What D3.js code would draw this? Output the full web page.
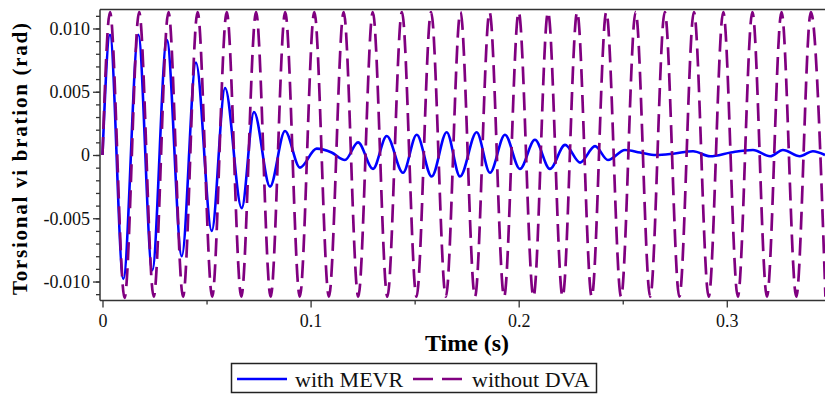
<!DOCTYPE html>
<html>
<head>
<meta charset="utf-8">
<script src="https://cdn.jsdelivr.net/npm/d3@7"></script>
<style>
  html, body { margin: 0; padding: 0; background: #fff; }
  svg { display: block; }
</style>
</head>
<body>
<svg id="chart" width="825" height="394"></svg>
<script>
// ---------------- data ----------------
const timeTicks = [0, 0.1, 0.2, 0.3];
const timeMinorTicks = [0.05, 0.15, 0.25];
const valueTicks = [-0.010, -0.005, 0, 0.005, 0.010];
const valueMinorTicks = [-0.011, -0.010, -0.009, -0.008, -0.007, -0.006, -0.005, -0.004, -0.003, -0.002, -0.001,
  0, 0.001, 0.002, 0.003, 0.004, 0.005, 0.006, 0.007, 0.008, 0.009, 0.010, 0.011];

const seriesNames = ["with MEVR", "without DVA"];

// without DVA: undamped oscillation, sampled at its extrema (time s, rad)
const withoutDvaTime = [0, 0.0036, 0.0106, 0.0176, 0.0246, 0.0317, 0.0387, 0.0457, 0.0527, 0.0597, 0.0667,
  0.0738, 0.0808, 0.0878, 0.0948, 0.1018, 0.1088, 0.1159, 0.1229, 0.1299, 0.1369,
  0.1439, 0.1509, 0.1579, 0.1650, 0.1720, 0.1790, 0.1860, 0.1930, 0.2000, 0.2071,
  0.2141, 0.2211, 0.2281, 0.2351, 0.2421, 0.2492, 0.2562, 0.2632, 0.2702, 0.2772,
  0.2842, 0.2913, 0.2983, 0.3053, 0.3123, 0.3193, 0.3263, 0.3334, 0.3404, 0.3474];
const withoutDvaValue = [0, 0.0113, -0.0113, 0.0113, -0.0112, 0.0113, -0.0112, 0.0113, -0.0112, 0.0113, -0.0112,
  0.0113, -0.0112, 0.0113, -0.0112, 0.0113, -0.0112, 0.0113, -0.0112, 0.0113, -0.0112,
  0.0113, -0.0112, 0.0113, -0.0112, 0.0113, -0.0112, 0.0113, -0.0112, 0.0113, -0.0112,
  0.0113, -0.0112, 0.0113, -0.0112, 0.0113, -0.0112, 0.0113, -0.0112, 0.0113, -0.0112,
  0.0113, -0.0112, 0.0113, -0.0112, 0.0113, -0.0112, 0.0113, -0.0112, 0.0113, -0.0112];

// with MEVR: damped response (time s, rad)
const withMevrTime = [0, 0.0036, 0.0100, 0.0172, 0.0239, 0.0309, 0.0381, 0.0449, 0.0525, 0.0589, 0.0669,
  0.0728, 0.0805, 0.0877, 0.0949, 0.1029, 0.1101, 0.1165, 0.1228, 0.1300, 0.1366,
  0.1444, 0.1510, 0.1582, 0.1654, 0.1718, 0.1798, 0.1862, 0.1934, 0.2006, 0.2078,
  0.2150, 0.2223, 0.2295, 0.2367, 0.2429, 0.2511, 0.2583, 0.2660, 0.2742, 0.2838,
  0.2920, 0.3020, 0.3126, 0.3208, 0.3270, 0.3351, 0.3414, 0.3472];
const withMevrValue = [0, 0.0095, -0.0098, 0.0095, -0.0091, 0.0091, -0.0080, 0.0073, -0.0060, 0.0053, -0.0042,
  0.0034, -0.0025, 0.0019, -0.0010, 0.0005, 0.0002, -0.0004, 0.0010, -0.0011, 0.0015,
  -0.0014, 0.0016, -0.0017, 0.0018, -0.0017, 0.0018, -0.0014, 0.0016, -0.0011, 0.0012,
  -0.0011, 0.0008, -0.0006, 0.0007, -0.0004, 0.0004, 0.0002, 0.0000, 0.0001, 0.0003,
  -0.0001, 0.0002, 0.0004, -0.0001, 0.0004, -0.0001, 0.0003, 0.0000];

// ---------------- chart ----------------
const svg = d3.select("#chart");
const plotLeft = 100, plotRight = 825, plotTop = 9.5, plotBottom = 300.5;

const x = d3.scaleLinear().domain([-0.0012, 0.3472]).range([plotLeft, plotRight]);
const y = d3.scaleLinear().domain([-0.0115, 0.0115]).range([plotBottom, plotTop]);

const FONT = '"Liberation Serif"';
const AXIS_COLOR = "#333";

svg.append("defs").append("clipPath").attr("id", "plotclip")
  .append("rect").attr("x", plotLeft).attr("y", plotTop - 1)
  .attr("width", plotRight - plotLeft).attr("height", plotBottom - plotTop + 2);

const plot = svg.append("g").attr("clip-path", "url(#plotclip)");

const line = d3.line().x(d => x(d[0])).y(d => y(d[1])).curve(d3.curveMonotoneX);

const mevr = withMevrTime.map((t, i) => [t, withMevrValue[i]]);
const nodva = withoutDvaTime.map((t, i) => [t, withoutDvaValue[i]]);

plot.append("path").datum(mevr).attr("d", line)
  .attr("fill", "none").attr("stroke", "#0000ff").attr("stroke-width", 2.6).attr("stroke-linejoin", "round");

plot.append("path").datum(nodva).attr("d", line)
  .attr("fill", "none").attr("stroke", "#800080").attr("stroke-width", 2.7)
  .attr("stroke-dasharray", "18,8");

// frame top line
svg.append("line").attr("x1", plotLeft).attr("x2", plotRight).attr("y1", plotTop).attr("y2", plotTop)
  .attr("stroke", AXIS_COLOR).attr("stroke-width", 1.5);

// y axis
const yAxisMinor = svg.append("g").attr("transform", `translate(${plotLeft},0)`)
  .call(d3.axisLeft(y).tickValues(valueMinorTicks).tickSize(4).tickFormat(""));
const yAxis = svg.append("g").attr("transform", `translate(${plotLeft},0)`)
  .call(d3.axisLeft(y).tickValues(valueTicks).tickSize(7).tickPadding(3)
    .tickFormat(d => d === 0 ? "0" : d.toFixed(3)));

// x axis
const xAxisMinor = svg.append("g").attr("transform", `translate(0,${plotBottom})`)
  .call(d3.axisBottom(x).tickValues(timeMinorTicks).tickSize(4).tickFormat(""));
const xAxis = svg.append("g").attr("transform", `translate(0,${plotBottom})`)
  .call(d3.axisBottom(x).tickValues(timeTicks).tickSize(7).tickPadding(7)
    .tickFormat(d => d === 0 ? "0" : String(d)));

[yAxisMinor, yAxis, xAxisMinor, xAxis].forEach(g => {
  g.select(".domain").attr("stroke", AXIS_COLOR).attr("stroke-width", 1.5);
  g.selectAll(".tick line").attr("stroke", AXIS_COLOR).attr("stroke-width", 1.3);
  g.selectAll(".tick text").style("font-family", FONT).attr("font-size", 18).attr("fill", "#111");
});
xAxisMinor.select(".domain").remove();
yAxisMinor.select(".domain").remove();
xAxis.select(".domain").attr("d", `M${plotLeft},0H${plotRight}`);
yAxis.select(".domain").attr("d", `M0,${plotTop}V${plotBottom}`);

// axis titles
svg.append("text").attr("x", 467).attr("y", 351).attr("text-anchor", "middle")
  .style("font-family", FONT).attr("font-weight", "bold").attr("font-size", 24).attr("fill", "#000")
  .text("Time (s)");

svg.append("text").attr("transform", "translate(27,159) rotate(-90)").attr("text-anchor", "middle")
  .style("font-family", FONT).attr("font-weight", "bold").attr("font-size", 21).attr("fill", "#000")
  .attr("textLength", 272).attr("lengthAdjust", "spacing")
  .text("Torsional vi bration (rad)");

// legend
const lg = svg.append("g");
lg.append("rect").attr("x", 231.5).attr("y", 363.5).attr("width", 365).attr("height", 29)
  .attr("fill", "#fff").attr("stroke", "#222").attr("stroke-width", 1.5);
lg.append("line").attr("x1", 237).attr("x2", 287).attr("y1", 379).attr("y2", 379)
  .attr("stroke", "#0000ff").attr("stroke-width", 2.6);
lg.append("text").attr("x", 295).attr("y", 387).style("font-family", FONT).attr("font-size", 22)
  .attr("fill", "#111").text(seriesNames[0]);
lg.append("line").attr("x1", 413).attr("x2", 462).attr("y1", 379).attr("y2", 379)
  .attr("stroke", "#800080").attr("stroke-width", 2.7).attr("stroke-dasharray", "20,9");
lg.append("text").attr("x", 472).attr("y", 387).style("font-family", FONT).attr("font-size", 22)
  .attr("fill", "#111").text(seriesNames[1]);
</script>
</body>
</html>
